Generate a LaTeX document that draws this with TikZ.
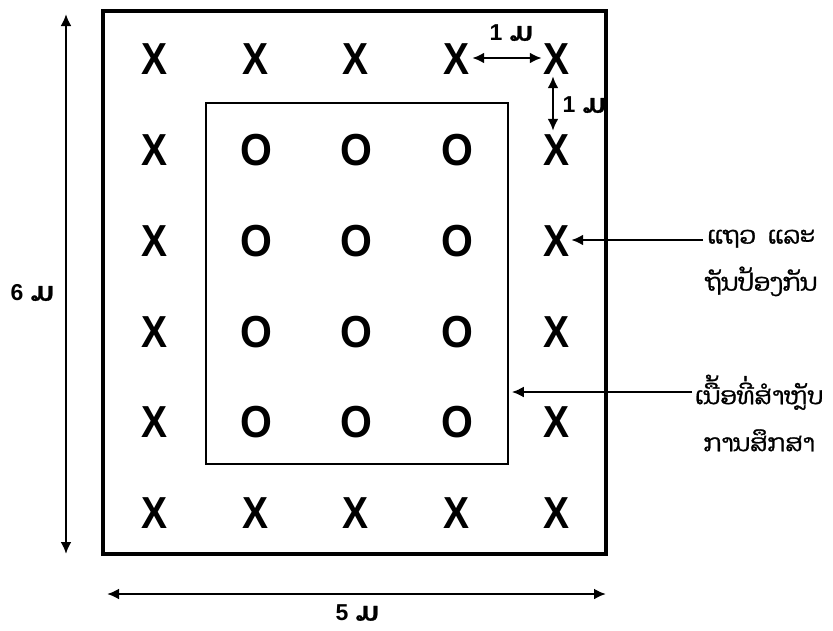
\documentclass[tikz,border=0pt]{standalone}
\usepackage{fontspec}
\setmainfont{Liberation Sans}
\newfontfamily\laofont[Script=Lao,FakeBold=1.2]{Dhyana}
\newcommand\unitfont{\fontsize{26}{26}\selectfont\laofont}
\usetikzlibrary{arrows.meta}
\begin{document}
\begin{tikzpicture}[x=1pt,y=-1pt,
  >={Latex[length=12pt,width=11pt]},
  plant/.style={inner sep=0pt, font=\fontsize{39}{39}\selectfont\bfseries, text height=32pt, text depth=0pt},
  dimlab/.style={inner sep=1pt, font=\fontsize{23}{23}\selectfont\bfseries},
  sidelab/.style={inner sep=0pt, align=center, font=\fontsize{24}{47}\selectfont\laofont},
  dim/.style={line width=2.7pt, <->},
  onearrow/.style={line width=2.7pt, ->},
]
\useasboundingbox (0,0) rectangle (833,630);
% outer border
\node[draw, line width=3.2pt, minimum width=503pt, minimum height=543pt, inner sep=0pt] (border) at (354.5,282.5) {};
% study area
\node[draw, line width=1.5pt, minimum width=302pt, minimum height=361pt, inner sep=0pt] (field) at (357,283.5) {};
% plants
\foreach \r/\y in {1/58,2/149,3/240,4/331,5/421,6/512}{
  \foreach \c/\x in {1/155,2/256,3/356,4/457,5/557}{
    \pgfmathtruncatemacro{\inner}{(\r>1)*(\r<6)*(\c>1)*(\c<5)}
    \ifnum\inner=1
      \node[plant] (p\r\c) at (\x,\y) {\scalebox{1.05}[1.15]{O}};
    \else
      \node[plant] (p\r\c) at (\x,\y) {\scalebox{1}[1.15]{X}};
    \fi
  }
}
% spacing arrows
\draw[dim] ([xshift=2pt]p14.east) -- ([xshift=-2pt]p15.west);
\node[dimlab] (oneh) at (511,33) {1\,\,{\unitfont ມ}};
\draw[dim] ([xshift=-4pt,yshift=-2pt]p15.south) -- ([xshift=-4pt,yshift=2pt]p25.north);
\node[dimlab] (onev) at (584,105) {1\,\,{\unitfont ມ}};
% overall dimensions
\coordinate (vt) at (66,14);
\coordinate (vb) at (66,554);
\draw[dim] (vt) -- (vb);
\node[dimlab] (six) at (32,293) {6\,\,{\unitfont ມ}};
\coordinate (hl) at (107,594);
\coordinate (hr) at (606,594);
\draw[dim] (hl) -- (hr);
\node[dimlab] (five) at (357,613) {5\,\,{\unitfont ມ}};
% side labels
\node[sidelab, anchor=west] (guard) at (705,263) {ແຖວ\,\,\,ແລະ\\ຖັນປ້ອງກັນ};
\node[sidelab, anchor=west] (study) at (695,413) {ເນື້ອທີ່ສຳຫຼັບ\\ການສຶກສາ};
\draw[onearrow] ([xshift=-2pt]guard.west |- p35.east) -- ([xshift=1pt]p35.east);
\coordinate (studytip) at (field.east |- 0,392);
\draw[onearrow] ([xshift=-3pt]study.west |- studytip) -- ([xshift=3pt]studytip);
\end{tikzpicture}
\end{document}
